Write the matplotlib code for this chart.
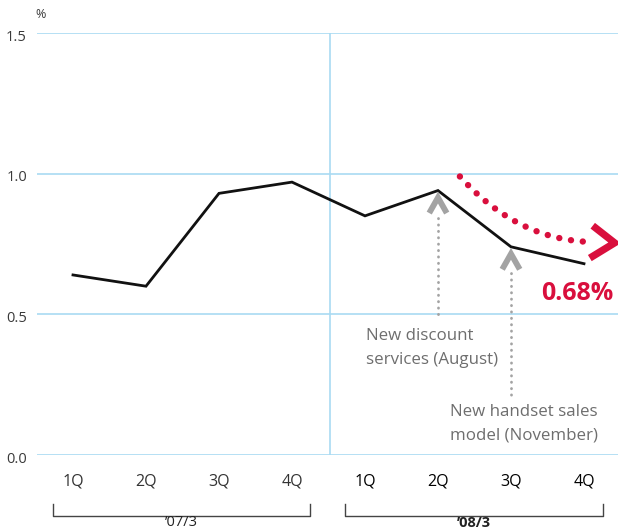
import numpy as np
import matplotlib
matplotlib.use("Agg")
import matplotlib.pyplot as plt
from matplotlib.transforms import blended_transform_factory

plt.rcParams['font.family'] = ['Open Sans', 'DejaVu Sans']

quarters = ["1Q", "2Q", "3Q", "4Q", "1Q", "2Q", "3Q", "4Q"]
values = [0.64, 0.60, 0.93, 0.97, 0.85, 0.94, 0.74, 0.68]
yticks = [0.0, 0.5, 1.0, 1.5]
ytick_labels = ["0.0", "0.5", "1.0", "1.5"]
year_labels = ["\u201907/3", "\u201908/3"]
annotations = [
    (5, 0.94, "New discount\nservices (August)"),
    (6, 0.74, "New handset sales\nmodel (November)"),
]
final_label = "0.68%"

RED = "#d90f3d"
GRID = "#a9daf2"
GRAY = "#a3a3a3"
TXT = "#3a3a3a"

fig = plt.figure(figsize=(6.18, 5.29), dpi=100)
ax = fig.add_axes([37 / 618, 74 / 529, 581 / 618, 422 / 529])
x = np.arange(len(values))
ax.set_xlim(-0.493, 7.466)
ax.set_ylim(0, 1.5)

for yv in yticks:
    ax.axhline(yv, color=GRID, lw=1.2, zorder=1)
ax.axvline(3.52, color=GRID, lw=1.2, zorder=1)

ax.plot(x, values, color="#111111", lw=2.0, zorder=5, solid_joinstyle="miter")

for s in ax.spines.values():
    s.set_visible(False)
ax.set_xticks([])
ax.set_yticks([])

# y tick labels
for yv, lab in zip(yticks, ytick_labels):
    ax.text(-0.63, yv - 0.015, lab, ha="right", va="center", fontsize=10.5, color=TXT)
ax.text(-0.45, 1.564, "%", ha="center", va="center", fontsize=9, color=TXT)

# gray annotation arrows + dotted leader lines
dy_top = [0.853, 0.657]
dy_bot = [0.487, 0.213]
text_pos = [(4.01, 0.452), (5.16, 0.183)]
for (xa, ya, txt), yt, yb, tp in zip(annotations, dy_top, dy_bot, text_pos):
    tip = ya - 0.025
    ax.plot([xa - 0.12, xa, xa + 0.12], [tip - 0.055, tip, tip - 0.055],
            color=GRAY, lw=4.2, solid_capstyle="butt", solid_joinstyle="miter", zorder=6)
    ax.plot([xa, xa], [yt - 0.01, yb], color=GRAY, lw=2.0,
            linestyle=(0, (0.1, 2.2)), dash_capstyle="round", zorder=4)
    ax.text(tp[0], tp[1], txt, ha="left", va="top", fontsize=12.2, color="#6e6e6e",
            linespacing=1.7)

# red dotted trend curve
p0 = np.array([5.30, 0.99])
p1 = np.array([6.10, 0.76])
p2 = np.array([7.14, 0.757])
t = np.linspace(0, 1, 200)
curve = ((1 - t) ** 2)[:, None] * p0 + (2 * (1 - t) * t)[:, None] * p1 + (t ** 2)[:, None] * p2
ax.plot(curve[:, 0], curve[:, 1], color=RED, lw=4.6,
        linestyle=(0, (0.01, 1.85)), dash_capstyle="round", zorder=6, clip_on=False)
ax.plot([7.12, 7.42, 7.08], [0.815, 0.754, 0.700], color=RED, lw=5.2,
        solid_capstyle="butt", solid_joinstyle="miter", zorder=7, clip_on=False)
ax.text(7.405, 0.575, final_label, ha="right", va="center", fontsize=18,
        fontweight="bold", color=RED)

# bottom category labels + brackets
tr = blended_transform_factory(ax.transData, fig.transFigure)
for i, q in enumerate(quarters):
    ax.text(i, 47 / 529, q, transform=tr, ha="center", va="center",
            fontsize=11.5, color="#333333" if i < 4 else "#000000",
            fontweight="normal" if i < 4 else "medium")

brackets = [(-0.27, 3.24), (3.73, 7.26)]
for bi, ((b0, b1), lab) in enumerate(zip(brackets, year_labels)):
    ax.plot([b0, b0, b1, b1], [25 / 529, 13 / 529, 13 / 529, 25 / 529], transform=tr,
            color="#444444", lw=1.0, clip_on=False)
    ax.text((b0 + b1) / 2, 6 / 529, lab, transform=tr, ha="center", va="center",
            fontsize=10.5, color="#222222", fontweight="bold" if bi == 1 else "normal")

fig.savefig("out.png", dpi=100)
